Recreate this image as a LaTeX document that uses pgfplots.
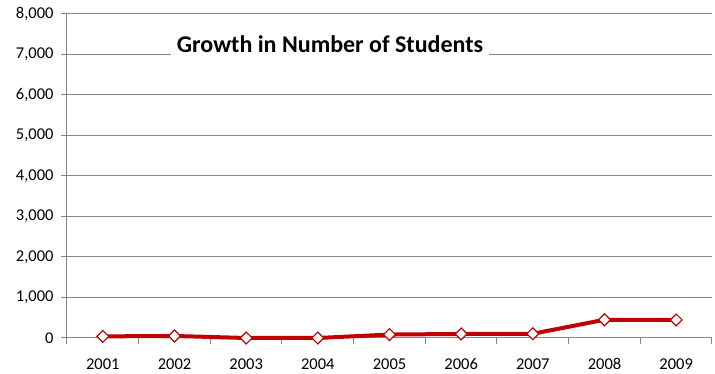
\documentclass[border=0pt]{standalone}
\usepackage{pgfplots}
\pgfplotsset{compat=1.18}
\usepackage{fontspec}
\setmainfont{Carlito}
\definecolor{gridc}{HTML}{868686}
\definecolor{lred}{HTML}{C00000}
\begin{document}
\begin{tikzpicture}
\path[use as bounding box] (-67pt,-36pt) rectangle (648pt,338pt);
\begin{axis}[
  scale only axis, width=645pt, height=324pt,
  xmin=0.5, xmax=9.5, ymin=0, ymax=8000,
  axis lines*=left,
  axis line style={gridc, line width=1pt},
  ytick={0,1000,...,8000},
  minor ytick={0,1000,...,8000},
  ymajorgrids, grid style={gridc, line width=1pt},
  xtick={1,2,3,4,5,6,7,8,9},
  xticklabels={2001,2002,2003,2004,2005,2006,2007,2008,2009},
  minor xtick={0.5,1.5,2.5,3.5,4.5,5.5,6.5,7.5,8.5,9.5},
  tick align=outside,
  major tick length=0pt,
  minor tick length=6pt,
  tick style={gridc, line width=1pt},
  /pgf/number format/assume math mode=true,
  /pgf/number format/1000 sep={,},
  scaled y ticks=false,
  ticklabel style={font=\fontsize{16.5}{16.5}\selectfont, text=black},
  xticklabel style={yshift=-17pt},
  yticklabel style={xshift=-10pt},
  clip=false,
]
\addplot[lred, line width=4pt, mark=square*, mark size=4.2pt,
  mark options={fill=white, draw=lred, line width=1.2pt, rotate=45}]
  coordinates {(1,40) (2,50) (3,0) (4,0) (5,85) (6,100) (7,105) (8,450) (9,445)};
\node[fill=white, inner xsep=6pt, minimum height=26pt, font=\bfseries\fontsize{24}{24}\selectfont]
  at (axis cs:4.17,7250) {Growth in Number of Students};
\end{axis}
\end{tikzpicture}
\end{document}
